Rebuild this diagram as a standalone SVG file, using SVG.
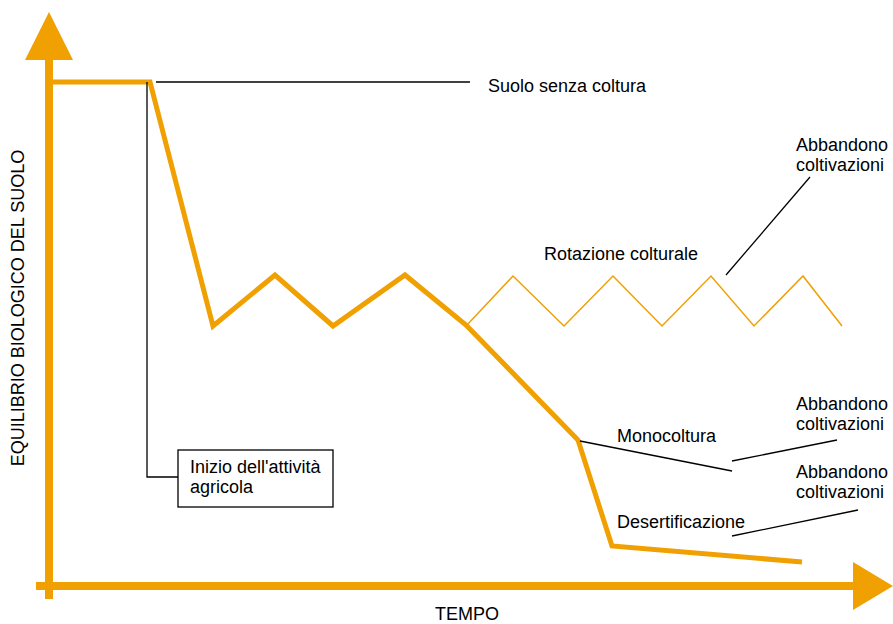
<svg xmlns="http://www.w3.org/2000/svg" width="893" height="624" viewBox="0 0 893 624">
<style>
  text { font-family: "Liberation Sans", Arial, sans-serif; font-size: 18px; fill: #000; }
  .axis { stroke: #F0A000; stroke-width: 8; fill: none; }
  .thick { stroke: #F0A000; stroke-width: 5; fill: none; stroke-linejoin: miter; }
  .thin { stroke: #F0A000; stroke-width: 1.5; fill: none; }
  .lead { stroke: #000; stroke-width: 1.3; fill: none; }
  .head { fill: #F0A000; }
</style>
<rect width="893" height="624" fill="#fff"/>
<g id="axes">
  <line class="axis" x1="49" y1="58" x2="49" y2="599"/>
  <polygon class="head" points="49,12 73,60 25,60"/>
  <line class="axis" x1="36" y1="586" x2="855" y2="586"/>
  <polygon class="head" points="893,586 853,562 853,610"/>
  <text x="467" y="620" text-anchor="middle">TEMPO</text>
  <text transform="translate(24,308) rotate(-90)" text-anchor="middle">EQUILIBRIO BIOLOGICO DEL SUOLO</text>
</g>
<g id="curves">
  <polyline class="thick" points="49,82 150,82 213,326 275,275 333,326 405,275 466,325 578,440 612,546 802,562"/>
  <polyline class="thin" points="467,325 513,276 564,326 613,276 662,326 711,276 754,326 803,276 842,326"/>
</g>
<g id="connectors">
  <polyline class="lead" points="147,82 147,477 178,477"/>
  <line class="lead" x1="156" y1="82" x2="470" y2="82"/>
  <line class="lead" x1="810" y1="177" x2="726" y2="275"/>
  <line class="lead" x1="580" y1="441" x2="732" y2="471"/>
  <line class="lead" x1="837" y1="440" x2="732" y2="461"/>
  <line class="lead" x1="858" y1="510" x2="732" y2="536"/>
</g>
<g id="node-inizio">
  <rect x="178" y="450" width="155" height="57" fill="#fff" stroke="#000" stroke-width="1.3"/>
  <text x="190" y="473">Inizio dell'attività</text>
  <text x="190" y="493">agricola</text>
</g>
<g id="label-suolo"><text x="488" y="92">Suolo senza coltura</text></g>
<g id="label-rotazione"><text x="544" y="260">Rotazione colturale</text></g>
<g id="label-abbandono1">
  <text x="796" y="151">Abbandono</text>
  <text x="796" y="171">coltivazioni</text>
</g>
<g id="label-monocoltura"><text x="617" y="442">Monocoltura</text></g>
<g id="label-abbandono2">
  <text x="796" y="410">Abbandono</text>
  <text x="796" y="430">coltivazioni</text>
</g>
<g id="label-abbandono3">
  <text x="796" y="478">Abbandono</text>
  <text x="796" y="498">coltivazioni</text>
</g>
<g id="label-desertificazione"><text x="617" y="528">Desertificazione</text></g>
</svg>
